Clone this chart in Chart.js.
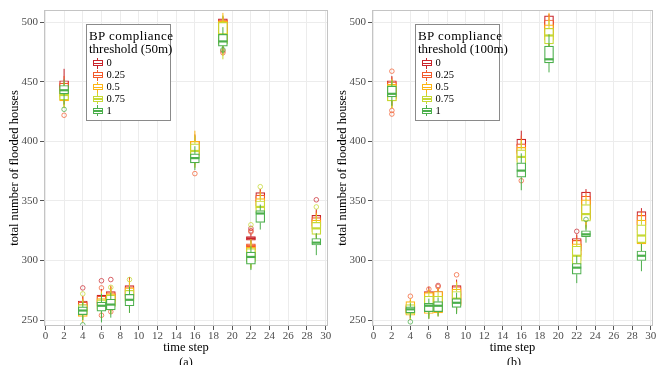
<!DOCTYPE html>
<html>
<head>
<meta charset="utf-8">
<script src="https://cdn.jsdelivr.net/npm/chart.js@4.4.0/dist/chart.umd.min.js"></script>
<style>
  html,body{margin:0;padding:0;background:#fff;}
  body{width:658px;height:365px;overflow:hidden;position:relative;font-family:"Liberation Serif","Times New Roman",serif;}
  .panel{position:absolute;top:0;height:365px;}
  #pa{left:0;width:340px;}
  #pb{left:328px;width:330px;}
  .legend{position:absolute;top:24px;width:85px;height:97px;border:1px solid #8a8a8a;background:#fff;box-sizing:border-box;}
  .lt{position:absolute;left:2px;top:4px;font-size:13px;line-height:13px;color:#000;white-space:nowrap;}
  .lt .l1{letter-spacing:0.45px;}
  .li{position:absolute;left:0;height:12px;width:80px;}
  .li .w{position:absolute;left:10px;top:0;width:1px;height:11px;}
  .li .b{position:absolute;left:5.5px;top:2.5px;width:10px;height:6px;border:1.2px solid;background:#fff;box-sizing:border-box;}
  .li .m{position:absolute;left:5.5px;top:5px;width:10px;height:1.3px;}
  .li .t{position:absolute;left:19.5px;top:-0.5px;font-size:10.5px;line-height:12px;color:#000;}
  .sub{position:absolute;top:355px;width:40px;text-align:center;font-size:12px;line-height:14px;color:#000;}
</style>
</head>
<body>
<div class="panel" id="pa"><canvas id="ca" width="340" height="365"></canvas></div>
<div class="panel" id="pb"><canvas id="cb" width="330" height="365"></canvas></div>
<div class="legend" id="lega" style="left:86px"><div class="lt"><span class="l1">BP compliance</span><br>threshold (50m)</div></div>
<div class="legend" id="legb" style="left:415px"><div class="lt"><span class="l1">BP compliance</span><br>threshold (100m)</div></div>
<div class="sub" style="left:166px">(a)</div>
<div class="sub" style="left:494px">(b)</div>
<script>
// ---------------- data ----------------
const timeSteps = [2, 4, 6, 7, 9, 16, 19, 22, 23, 29];
const thresholds = ['0', '0.25', '0.5', '0.75', '1'];
const xTicks = [0, 2, 4, 6, 8, 10, 12, 14, 16, 18, 20, 22, 24, 26, 28, 30];
const yTicks = [250, 300, 350, 400, 450, 500];

// box stats per time step: [lower whisker, Q1, median, Q3, upper whisker]
// Panel (a): 50 m threshold
const boxA0 = [[440,443,447,451,461],[255,260,263,266,270],[258,264,268,271,276],[260,266,271,274,278],[263,270,275,279,286],[382,390,395,400,405],[478,485,495,503,505],[314,317,318.5,320,323],[344,349,353,357,360],[322,329,334,338,343]];
const boxA1 = [[430,440,445,449,455],[252,258,262,265,270],[256,262,266,270,275],[258,264,269,273,279],[260,268,274,278,285],[380,389,394,400,406],[480,484,494,502,505],[304,309,312,314,318],[340,346,350,355,360],[320,327,332,336,342]];
const boxA2 = [[428,434,438,445,450],[248,253,258,262,268],[253,259,264,268,274],[256,262,267,272,278],[256,266,272,277,284],[378,388,395,400,409],[472,482,492,501,508],[294,300,306,311,316],[336,343,347,352,358],[318,324,329,334,340]];
const boxA3 = [[428,435,439,443,448],[250,255,259,263,267],[252,259,263,267,273],[255,261,266,271,275],[258,265,270,275,280],[378,386,392,398,405],[469,482,490,500,506],[293,299,305,310,318],[334,340,345,350,356],[316,322,327,332,338]];
const boxA4 = [[431,440,443,447,452],[250,254.5,258,261,265],[248,257.5,262,265,272],[252,258.5,263,267.5,273],[256,262,267,271.5,278],[376,382,386,389.5,396],[474,480,484,490,496],[292,297,303,307,312],[326,332,339.5,342,347],[304.5,313,315,318.5,323]];
// outliers [time step, value]
const outA0 = [[4,277],[6,283],[7,284],[22,327],[22,325],[29,351]];
const outA1 = [[2,422],[6,277],[6,254],[7,257],[16,373],[19,476],[19,474.5],[22,324]];
const outA2 = [];
const outA3 = [[4,272],[7,277.5],[9,284],[22,330],[23,362],[29,345]];
const outA4 = [[2,427],[4,246],[19,477]];

// Panel (b): 100 m threshold
const boxB0 = [[430,437,444,451,455],[251,256,259,262,267],[256,262,268,274,278],[257,262,268,274,277],[258,264,272,279,284],[382,390,397,402,409],[485,492,500,505.5,507],[300,308,313,318.5,322],[330,336,347,357.5,360],[322,330,336,341,344]];
const boxB1 = [[428,436,443,450,454],[250,255,259,263,266],[254,260,266,273,275],[256,261,267,273,276],[257,263,271,278,283],[375,385,392,398,405],[480,488,495,502,506],[298,305,311,317,321],[328,335,345,354,358],[318,326,332,338,342]];
const boxB2 = [[428,434,441,448,452],[250,254,258,265.5,268],[251,255.5,264,273,276],[253,256,264,274,277],[256,262,269,276,282],[375,383,390,395,402],[476,485,492,498,508],[293,300,305,314,318],[327,334,342,351,355],[308,314,324,334,340]];
const boxB3 = [[428,434,440,447,452],[250,255,258,263,266],[252,258,263,270,274],[254,258,263,270,274],[256,262,268,274,281],[372,380,387,393,400],[474,482,489,495,502],[290,297,304,312,317],[326,333,339,347,352],[308,315,321,330,336]];
const boxB4 = [[430,437.5,440,446.5,451],[252,256,259,261,264],[251,257,262,264,268],[253,257,262,265.5,269],[255,260.6,264.5,268,273],[359,370,375.5,382,390],[458,466,469,480,490],[281,288.5,294,297.5,304],[315,320,322,325,330],[291,300,304,308,314]];
const outB0 = [[7,279],[22,324.5]];
const outB1 = [[2,459],[2,426],[2,423],[4,270],[6,276],[7,278],[9,288],[16,367]];
const outB2 = [];
const outB3 = [];
const outB4 = [[4,248.5],[23,334.5]];

// ---------------- styles ----------------
const colors = ['#c9242b', '#f25a2b', '#fdb515', '#c6d935', '#4caf4c'];
const outColors = ['rgba(201,36,43,0.7)', 'rgba(242,90,43,0.7)', 'rgba(253,181,21,0.7)', 'rgba(198,217,53,0.75)', 'rgba(76,175,76,0.75)'];
const FONT = '"Liberation Serif", "Times New Roman", serif';

function buildDatasets(boxes, outs) {
  const ds = [];
  boxes.forEach((box, k) => {
    ds.push({
      type: 'bar',
      label: thresholds[k],
      data: timeSteps.map((t, i) => ({ x: t, y: [box[i][1], box[i][3]], s: box[i] })),
      backgroundColor: '#ffffff',
      borderColor: colors[k],
      borderWidth: 1.2,
      borderSkipped: false,
      barThickness: 9,
      grouped: false,
      order: 20 - 2 * k
    });
    ds.push({
      type: 'scatter',
      label: thresholds[k] + ' outliers',
      data: outs[k].map(([x, y]) => ({ x, y })),
      pointStyle: 'circle',
      pointRadius: 2.3,
      pointBorderWidth: 1,
      pointBorderColor: outColors[k],
      pointBackgroundColor: 'rgba(0,0,0,0)',
      showLine: false,
      order: 19 - 2 * k
    });
  });
  return ds;
}

const boxParts = {
  id: 'boxParts',
  afterDatasetDraw(chart, args) {
    const meta = args.meta;
    if (meta.type !== 'bar') return;
    const ds = chart.data.datasets[args.index];
    const ys = chart.scales.y;
    const ctx = chart.ctx;
    const ca = chart.chartArea;
    ctx.save();
    ctx.beginPath();
    ctx.rect(ca.left, ca.top, ca.right - ca.left, ca.bottom - ca.top);
    ctx.clip();
    ctx.strokeStyle = ds.borderColor;
    meta.data.forEach((el, i) => {
      const s = ds.data[i].s;
      const p = s.map(v => ys.getPixelForValue(v));
      const x = el.x, hw = el.width / 2;
      ctx.lineWidth = 1;
      ctx.beginPath();
      ctx.moveTo(x, p[0]); ctx.lineTo(x, p[1]);
      ctx.moveTo(x, p[3]); ctx.lineTo(x, p[4]);
      ctx.stroke();
      ctx.lineWidth = 2.2;
      ctx.beginPath();
      ctx.moveTo(x - hw, p[2]); ctx.lineTo(x + hw, p[2]);
      ctx.stroke();
    });
    ctx.restore();
  }
};

const panelBorder = {
  id: 'panelBorder',
  afterDraw(chart) {
    const ca = chart.chartArea, ctx = chart.ctx;
    ctx.save();
    ctx.strokeStyle = '#c4c4c4';
    ctx.lineWidth = 1;
    ctx.strokeRect(ca.left + 0.5, ca.top + 0.5, ca.right - ca.left - 1, ca.bottom - ca.top - 1);
    ctx.restore();
  }
};

function makeChart(id, boxes, outs, padRight) {
  return new Chart(document.getElementById(id), {
    data: { datasets: buildDatasets(boxes, outs) },
    plugins: [boxParts, panelBorder],
    options: {
      responsive: false,
      animation: false,
      devicePixelRatio: 1,
      layout: { padding: { top: 10, right: padRight, bottom: 0, left: 0 } },
      plugins: { legend: { display: false }, tooltip: { enabled: false } },
      scales: {
        x: {
          type: 'linear',
          offset: false,
          min: -0.15, max: 30.25,
          afterBuildTicks: s => { s.ticks = xTicks.map(v => ({ value: v })); },
          afterFit: s => { s.height = 39; },
          ticks: { font: { family: FONT, size: 11 }, color: '#4d4d4d', padding: 0, maxRotation: 0, autoSkip: false },
          grid: { offset: false, color: '#ececec', lineWidth: 1, tickLength: 4, tickColor: '#555', tickWidth: 1 },
          border: { display: false },
          title: { display: true, text: 'time step', font: { family: FONT, size: 12.5 }, color: '#000', padding: { top: 0, bottom: 9.6 } }
        },
        y: {
          type: 'linear',
          min: 245, max: 510.4,
          afterBuildTicks: s => { s.ticks = yTicks.map(v => ({ value: v })); },
          afterFit: s => { s.width = 44; },
          ticks: { font: { family: FONT, size: 11 }, color: '#4d4d4d', padding: 2 },
          grid: { color: '#ececec', lineWidth: 1, tickLength: 4, tickColor: '#555', tickWidth: 1 },
          border: { display: false },
          title: { display: true, text: 'total number of flooded houses', font: { family: FONT, size: 12.5 }, color: '#000', padding: { top: 7.5, bottom: 0 } }
        }
      }
    }
  });
}

makeChart('ca', [boxA0, boxA1, boxA2, boxA3, boxA4], [outA0, outA1, outA2, outA3, outA4], 12);
makeChart('cb', [boxB0, boxB1, boxB2, boxB3, boxB4], [outB0, outB1, outB2, outB3, outB4], 2);

// legends
function buildLegend(id) {
  const L = document.getElementById(id);
  thresholds.forEach((t, k) => {
    const cy = 38.7 + k * 11.9;
    const d = document.createElement('div');
    d.className = 'li';
    d.style.top = (cy - 6) + 'px';
    d.innerHTML = '<div class="w" style="background:' + colors[k] + '"></div>' +
      '<div class="b" style="border-color:' + colors[k] + '"></div>' +
      '<div class="m" style="background:' + colors[k] + '"></div>' +
      '<div class="t">' + t + '</div>';
    L.appendChild(d);
  });
}
buildLegend('lega');
buildLegend('legb');
</script>
</body>
</html>
